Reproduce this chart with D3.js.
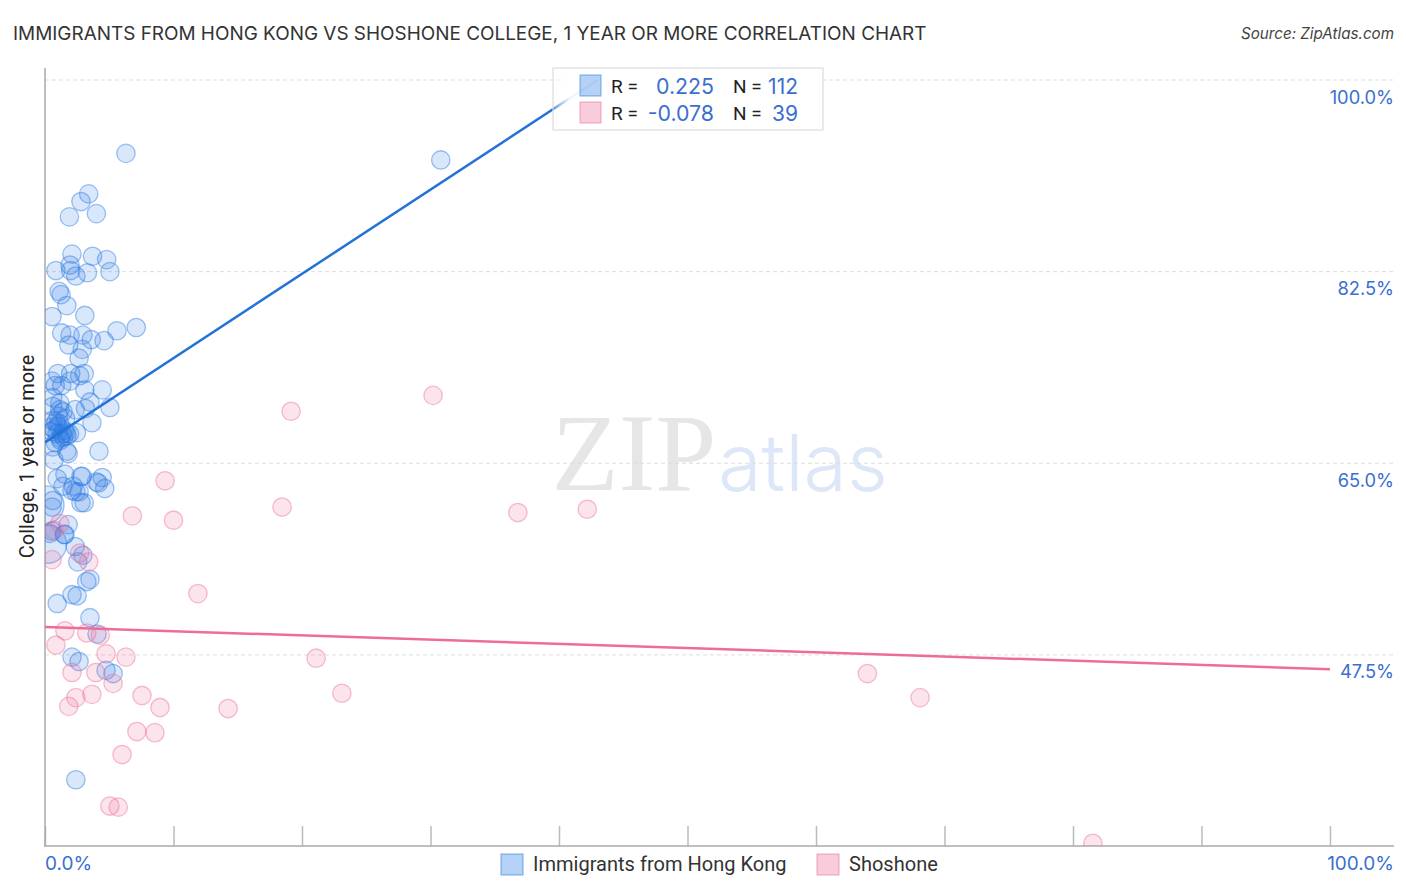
<!DOCTYPE html>
<html>
<head>
<meta charset="utf-8">
<script src="https://cdn.jsdelivr.net/npm/d3@7/dist/d3.min.js"></script>
<style>
  html, body { margin: 0; padding: 0; background: #fff; }
  text { font-family: Inter, "Noto Sans", sans-serif; }
  text.rb { font-family: Roboto, sans-serif; }
</style>
</head>
<body>
<svg id="chart" width="1406" height="892"></svg>
<script>
const blueX = [6.3,30.8,3.4,2.8,1.9,4.0,2.1,3.7,4.8,1.95,0.85,2.0,3.3,5.05,2.4,1.1,1.25,1.7,0.55,3.1,1.3,1.95,2.95,5.6,7.1,1.85,3.6,4.6,2.9,2.65,1.0,2.0,3.05,2.7,0.55,1.95,0.8,1.3,3.1,4.45,0.6,1.15,3.5,5.05,0.6,1.15,1.4,2.35,3.15,1.6,0.6,0.85,1.15,3.65,0.55,0.95,1.35,1.65,1.9,2.45,0.8,1.2,4.2,1.7,1.8,0.7,0.6,1.55,2.9,2.8,4.45,0.95,4.0,4.15,4.65,1.4,2.2,2.4,2.65,2.1,0.6,2.8,3.05,0.55,1.8,0.55,0.4,1.5,1.55,2.35,2.95,2.55,3.5,3.25,2.1,2.5,0.95,3.5,4.05,2.1,2.65,4.75,5.3,2.4,0.5,0.7,1.0,1.5,1.7,1.2,1.45,1.05];
const blueY = [93.3,92.7,89.6,88.9,87.5,87.8,84.1,83.9,83.6,83.1,82.6,82.6,82.4,82.5,82.1,80.7,80.4,79.4,78.4,78.5,76.9,76.7,76.7,77.1,77.4,75.8,76.3,76.2,75.4,74.6,73.2,73.2,73.2,73.0,72.5,72.5,72.1,72.1,71.7,71.7,71.0,70.5,70.6,70.1,70.2,69.9,69.7,69.9,70.0,69.1,68.9,68.8,68.6,68.7,67.9,67.7,67.7,67.8,67.7,67.8,66.9,67.3,66.1,66.1,65.9,65.3,66.5,64.0,63.8,63.8,63.7,63.6,63.3,63.2,62.7,62.9,62.9,62.4,62.4,62.5,61.6,61.4,61.4,61.0,59.4,58.8,58.6,58.5,58.5,57.4,56.6,56.0,54.4,54.2,53.0,52.9,52.2,50.9,49.4,47.3,46.9,46.1,45.8,36.1,68.3,68.1,68.4,68.0,67.5,67.1,67.4,69.3];
const pinkX = [19.15,30.2,9.35,18.45,36.8,42.2,6.8,10.0,1.15,0.7,0.55,2.7,3.4,11.9,1.55,3.25,4.3,0.85,4.75,6.3,21.1,2.1,3.95,64.0,5.3,2.4,3.65,7.55,23.1,68.1,1.85,8.95,14.25,7.15,8.55,6.0,5.05,5.7,81.55];
const pinkY = [69.75,71.2,63.4,61.0,60.5,60.8,60.2,59.8,59.5,58.9,56.2,56.8,56.0,53.1,49.7,49.5,49.3,48.4,47.6,47.3,47.2,45.9,45.9,45.8,44.9,43.6,43.9,43.8,44.0,43.6,42.8,42.7,42.6,40.5,40.4,38.4,33.7,33.6,30.3];

// the wide bubbles sitting on the left axis
const wideX = [0.0, 0.2];
const wideY = [61.2, 57.6];

// fitted lines, read at their two ends
const blueTrendX = [0, 43];
const blueTrendY = [66.9, 100];
const pinkTrendX = [0, 100];
const pinkTrendY = [50.05, 46.2];

const yTicks = [100, 82.5, 65, 47.5];
const xTicks = [0,10,20,30,40,50,60,70,80,90,100];
const seriesNames = ["Immigrants from Hong Kong", "Shoshone"];
const statR = ["0.225", "-0.078"];
const statN = ["112", "39"];

const blue = "#2a7ae2", pink = "#ee6c9a", labelBlue = "#3a6fd0";

const x = d3.scaleLinear().domain([0, 100]).range([45, 1330]);
const y = d3.scaleLinear().domain([30.05, 100]).range([846, 80]);

const svg = d3.select("#chart");
const defs = svg.append("defs");
defs.append("clipPath").attr("id", "plot")
  .append("rect").attr("x", 45).attr("y", 68).attr("width", 1361).attr("height", 778);
const fade = defs.append("linearGradient").attr("id", "boxFade");
fade.append("stop").attr("offset", "0%").attr("stop-color", "#fff").attr("stop-opacity", 0.25);
fade.append("stop").attr("offset", "6%").attr("stop-color", "#fff").attr("stop-opacity", 0.93);
fade.append("stop").attr("offset", "100%").attr("stop-color", "#fff").attr("stop-opacity", 0.93);

svg.append("text").attr("x", 13).attr("y", 40)
  .attr("font-size", 18.93).attr("fill", "#333")
  .text("IMMIGRANTS FROM HONG KONG VS SHOSHONE COLLEGE, 1 YEAR OR MORE CORRELATION CHART");
svg.append("text").attr("x", 1394).attr("y", 39).attr("text-anchor", "end")
  .attr("font-size", 15.2).attr("font-style", "italic").attr("fill", "#444")
  .text("Source: ZipAtlas.com");

// watermark
svg.append("text").attr("x", 634).attr("y", 490).attr("text-anchor", "middle")
  .style("font-family", "Liberation Serif")
  .attr("font-size", 110).attr("fill", "#e6e6e6").text("ZIP");
svg.append("text").attr("x", 803).attr("y", 491).attr("text-anchor", "middle")
  .attr("font-size", 79).attr("font-weight", 300).attr("fill", "#dde7f7").text("atlas");

// gridlines
svg.append("g").selectAll("line").data(yTicks).join("line")
  .attr("x1", 45).attr("x2", 1394)
  .attr("y1", d => y(d)).attr("y2", d => y(d))
  .attr("stroke", "#ddd").attr("stroke-dasharray", "4 3");

// axes
const xAxis = d3.axisBottom(x).tickValues(xTicks).tickSize(-20).tickFormat("");
const gx = svg.append("g").attr("transform", "translate(0,846)").call(xAxis);
gx.select(".domain").remove();
gx.selectAll("line").attr("stroke", "#bbb").attr("stroke-width", 1.5);
svg.append("line").attr("x1", 44).attr("x2", 1394).attr("y1", 846).attr("y2", 846)
  .attr("stroke", "#aaa").attr("stroke-width", 1.5);
svg.append("line").attr("x1", 45).attr("x2", 45).attr("y1", 68).attr("y2", 846)
  .attr("stroke", "#aaa").attr("stroke-width", 1.5);

svg.selectAll(".ylab").data(yTicks).join("text").attr("class", "ylab")
  .attr("x", 1394).attr("y", d => y(d) + 23.5).attr("text-anchor", "end")
  .attr("font-size", 18.3).attr("fill", labelBlue)
  .text(d => d.toFixed(1) + "%");
svg.append("text").attr("x", 45).attr("y", 870)
  .attr("font-size", 19).attr("fill", labelBlue).text("0.0%");
svg.append("text").attr("x", 1394).attr("y", 870).attr("text-anchor", "end")
  .attr("font-size", 19).attr("fill", labelBlue).text("100.0%");
svg.append("text").attr("class", "rb").attr("transform", "translate(34,456.5) rotate(-90)")
  .attr("text-anchor", "middle").attr("font-size", 20).attr("fill", "#222")
  .text("College, 1 year or more");

// points
const plot = svg.append("g").attr("clip-path", "url(#plot)");
function drawPoints(xs, ys, colour, r) {
  plot.append("g").selectAll("circle").data(xs).join("circle")
    .attr("cx", d => x(d))
    .attr("cy", (d, i) => y(ys[i]))
    .attr("r", r)
    .attr("fill", colour).attr("fill-opacity", 0.18)
    .attr("stroke", colour).attr("stroke-opacity", 0.45).attr("stroke-width", 1.3);
}
drawPoints(wideX, wideY, blue, 19);
drawPoints(blueX, blueY, blue, 9.2);
drawPoints(pinkX, pinkY, pink, 9.2);

const trend = (xs, ys, colour) => plot.append("line")
  .attr("x1", x(xs[0])).attr("x2", x(xs[1]))
  .attr("y1", y(ys[0])).attr("y2", y(ys[1]))
  .attr("stroke", colour).attr("stroke-width", 2.5);
trend(blueTrendX, blueTrendY, "#2272d8");
trend(pinkTrendX, pinkTrendY, pink);

// stats legend
const box = svg.append("g");
box.append("rect").attr("x", 553).attr("y", 68).attr("width", 270).attr("height", 62)
  .attr("fill", "url(#boxFade)").attr("stroke", "#ddd").attr("stroke-width", 1.2);
[0, 1].forEach(i => {
  const c = i ? pink : blue, rowY = 86 + i * 27;
  box.append("rect").attr("x", 580).attr("y", rowY - 11).attr("width", 21).attr("height", 21)
    .attr("fill", c).attr("fill-opacity", 0.35).attr("stroke", c).attr("stroke-opacity", 0.5).attr("stroke-width", 1.2);
  box.append("text").attr("class", "rb").attr("x", 611).attr("y", rowY + 7).attr("font-size", 19).attr("fill", "#222").text("R =");
  box.append("text").attr("x", 714).attr("y", rowY + 8).attr("text-anchor", "end").attr("font-size", 21.3).attr("fill", labelBlue).text(statR[i]);
  box.append("text").attr("class", "rb").attr("x", 733).attr("y", rowY + 7).attr("font-size", 19).attr("fill", "#222").text("N =");
  box.append("text").attr("x", 798).attr("y", rowY + 8).attr("text-anchor", "end").attr("font-size", 21).attr("fill", labelBlue).text(statN[i]);
});

// bottom legend
const legendX = [501, 817];
seriesNames.forEach((name, i) => {
  const c = i ? pink : blue;
  svg.append("rect").attr("x", legendX[i]).attr("y", 854).attr("width", 22).attr("height", 21)
    .attr("fill", c).attr("fill-opacity", 0.35).attr("stroke", c).attr("stroke-opacity", 0.5).attr("stroke-width", 1.2);
  svg.append("text").attr("class", "rb").attr("x", legendX[i] + 32).attr("y", 871)
    .attr("font-size", 20.05).attr("fill", "#333").text(name);
});
</script>
</body>
</html>
